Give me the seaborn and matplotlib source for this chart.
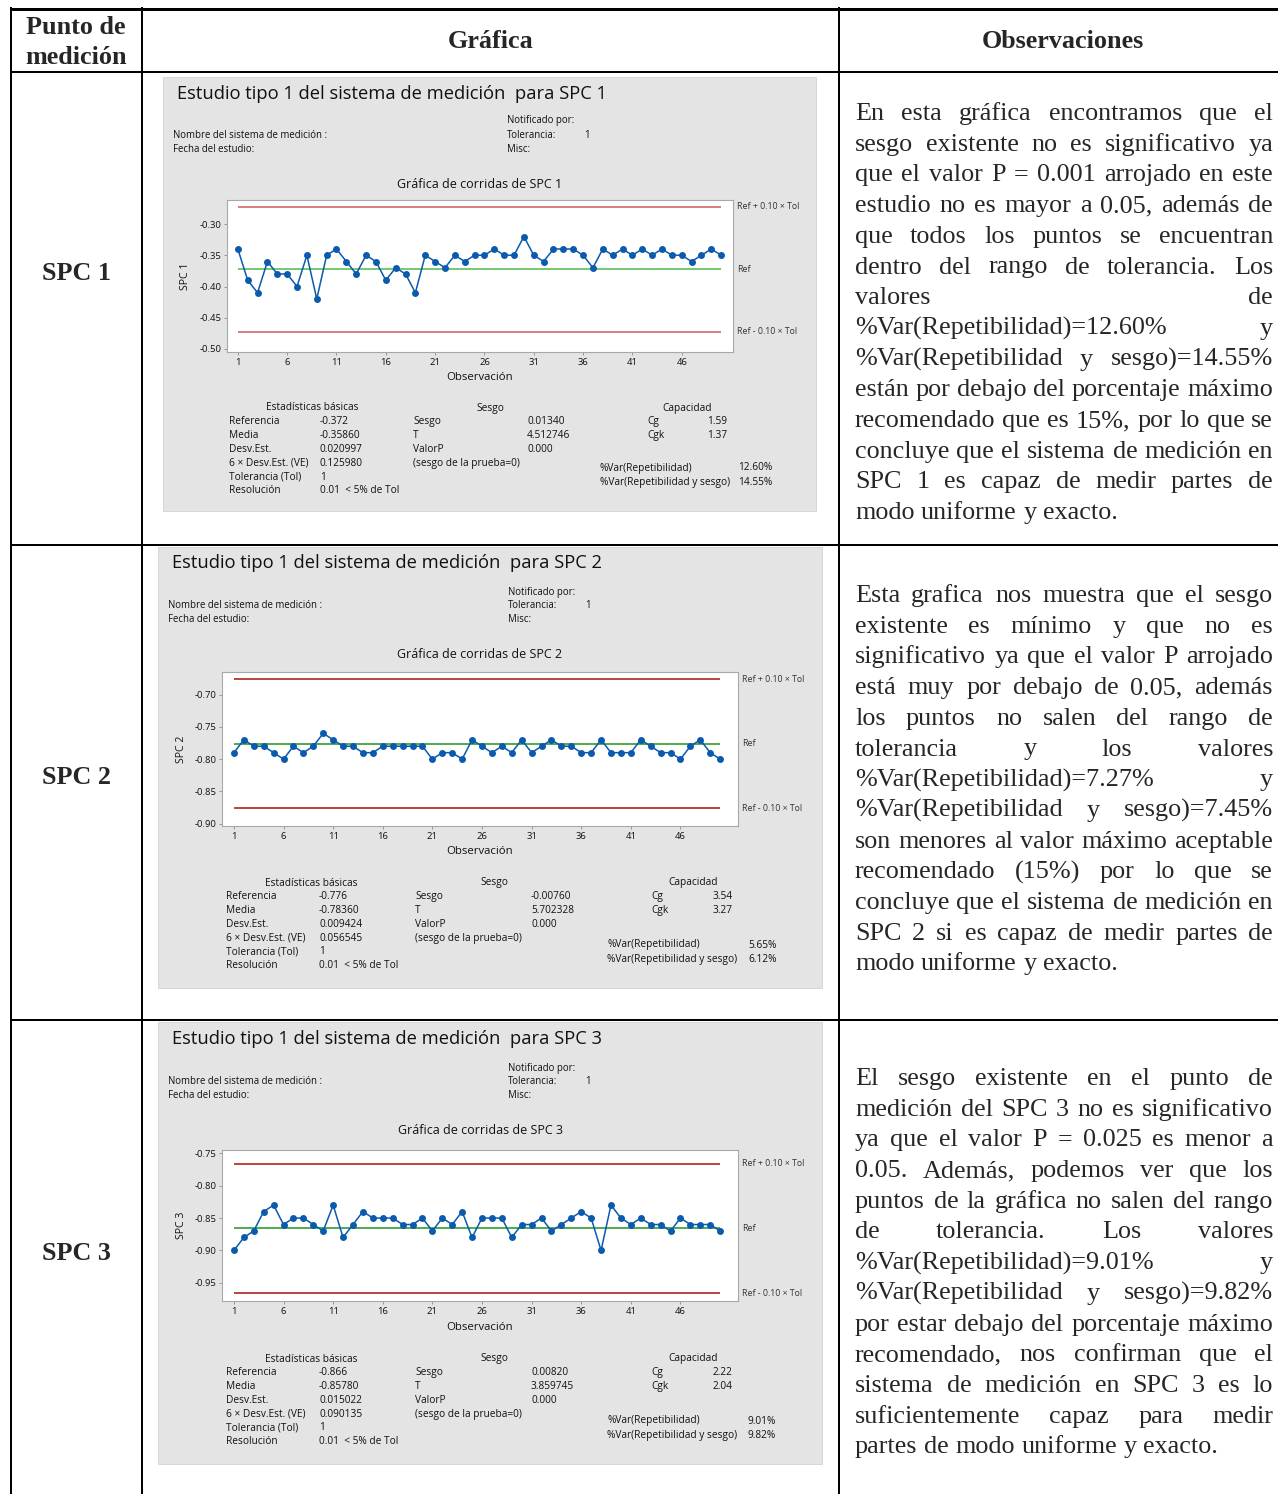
import matplotlib
matplotlib.use("Agg")
import numpy as np
import pandas as pd
import matplotlib.pyplot as plt
from matplotlib.patches import Rectangle
import seaborn as sns

W, H = 1278, 1494
PX = 100 / 72.0  # pixels per point at dpi 100

# ---- values ----
obs = list(range(1, 51))
spc1 = [-0.34, -0.39, -0.41, -0.36, -0.38, -0.38, -0.40, -0.35, -0.42, -0.35,
        -0.34, -0.36, -0.38, -0.35, -0.36, -0.39, -0.37, -0.38, -0.41, -0.35,
        -0.36, -0.37, -0.35, -0.36, -0.35, -0.35, -0.34, -0.35, -0.35, -0.32,
        -0.35, -0.36, -0.34, -0.34, -0.34, -0.35, -0.37, -0.34, -0.35, -0.34,
        -0.35, -0.34, -0.35, -0.34, -0.35, -0.35, -0.36, -0.35, -0.34, -0.35]
spc2 = [-0.79, -0.77, -0.78, -0.78, -0.79, -0.80, -0.78, -0.79, -0.78, -0.76,
        -0.77, -0.78, -0.78, -0.79, -0.79, -0.78, -0.78, -0.78, -0.78, -0.78,
        -0.80, -0.79, -0.79, -0.80, -0.77, -0.78, -0.79, -0.78, -0.79, -0.77,
        -0.79, -0.78, -0.77, -0.78, -0.78, -0.79, -0.79, -0.77, -0.79, -0.79,
        -0.79, -0.77, -0.78, -0.79, -0.79, -0.80, -0.78, -0.77, -0.79, -0.80]
spc3 = [-0.90, -0.88, -0.87, -0.84, -0.83, -0.86, -0.85, -0.85, -0.86, -0.87,
        -0.83, -0.88, -0.86, -0.84, -0.85, -0.85, -0.85, -0.86, -0.86, -0.85,
        -0.87, -0.85, -0.86, -0.84, -0.88, -0.85, -0.85, -0.85, -0.88, -0.86,
        -0.86, -0.85, -0.87, -0.86, -0.85, -0.84, -0.85, -0.90, -0.83, -0.85,
        -0.86, -0.85, -0.86, -0.86, -0.87, -0.85, -0.86, -0.86, -0.86, -0.87]
series = [spc1, spc2, spc3]
refs = [-0.372, -0.776, -0.866]
names = ["SPC 1", "SPC 2", "SPC 3"]
yticks = [[-0.50, -0.45, -0.40, -0.35, -0.30],
          [-0.90, -0.85, -0.80, -0.75, -0.70],
          [-0.95, -0.90, -0.85, -0.80, -0.75]]
xticks = [1, 6, 11, 16, 21, 26, 31, 36, 41, 46]

basic_labels = ["Referencia", "Media", "Desv.Est.", "6 × Desv.Est. (VE)",
                "Tolerancia (Tol)", "Resolución"]
basic_values = [["-0.372", "-0.35860", "0.020997", "0.125980", "1", "0.01  < 5% de Tol"],
                ["-0.776", "-0.78360", "0.009424", "0.056545", "1", "0.01  < 5% de Tol"],
                ["-0.866", "-0.85780", "0.015022", "0.090135", "1", "0.01  < 5% de Tol"]]
bias_labels = ["Sesgo", "T", "ValorP", "(sesgo de la prueba=0)"]
bias_values = [["0.01340", "4.512746", "0.000"],
               ["-0.00760", "5.702328", "0.000"],
               ["0.00820", "3.859745", "0.000"]]
cap_labels = ["Cg", "Cgk"]
cap_values = [["1.59", "1.37"], ["3.54", "3.27"], ["2.22", "2.04"]]
var_labels = ["%Var(Repetibilidad)", "%Var(Repetibilidad y sesgo)"]
var_values = [["12.60%", "14.55%"], ["5.65%", "6.12%"], ["9.01%", "9.82%"]]

obs_text = [
    ["En esta gráfica encontramos que el",
     "sesgo existente no es significativo ya",
     "que el valor P = 0.001 arrojado en este",
     "estudio no es mayor a 0.05, además de",
     "que todos los puntos se encuentran",
     "dentro del rango de tolerancia. Los",
     "valores de",
     "%Var(Repetibilidad)=12.60% y",
     "%Var(Repetibilidad y sesgo)=14.55%",
     "están por debajo del porcentaje máximo",
     "recomendado que es 15%, por lo que se",
     "concluye que el sistema de medición en",
     "SPC 1 es capaz de medir partes de",
     "modo uniforme y exacto."],
    ["Esta grafica nos muestra que el sesgo",
     "existente es mínimo y que no es",
     "significativo ya que el valor P arrojado",
     "está muy por debajo de 0.05, además",
     "los puntos no salen del rango de",
     "tolerancia y los valores",
     "%Var(Repetibilidad)=7.27% y",
     "%Var(Repetibilidad y sesgo)=7.45%",
     "son menores al valor máximo aceptable",
     "recomendado (15%) por lo que se",
     "concluye que el sistema de medición en",
     "SPC 2  si es capaz de medir partes de",
     "modo uniforme y exacto."],
    ["El sesgo existente en el punto de",
     "medición del SPC 3 no es significativo",
     "ya que el valor P = 0.025 es menor a",
     "0.05. Además, podemos ver que los",
     "puntos de la gráfica no salen del rango",
     "de tolerancia. Los valores",
     "%Var(Repetibilidad)=9.01% y",
     "%Var(Repetibilidad y sesgo)=9.82%",
     "por estar debajo del porcentaje máximo",
     "recomendado, nos confirman que el",
     "sistema de medición en SPC 3 es lo",
     "suficientemente capaz para medir",
     "partes de modo uniforme y exacto."],
]

# ---- layout (pixels) ----
layouts = [
    dict(box=(163, 77, 816, 511), axes=(227, 200, 733, 352), xlim=(-0.1, 51.2),
         ylim=(-0.5048, -0.2616), title=(177, 94), info_l=173, info_r=507, info_y=121,
         sub_y=184, xl_y=377, yl_x=186, stat_y=408,
         cols=(229, 320, 413, 527, 647, 707, 600, 738), heads=(312, 490, 687), var_y=468,
         red="#cf6a6a", green="#5cbf5c", obs_y=120, row_y=274),
    dict(box=(158, 547, 822, 988), axes=(222, 672, 738, 826), xlim=(-0.2, 51.8),
         ylim=(-0.9036, -0.665), title=(172, 563), info_l=168, info_r=508, info_y=592,
         sub_y=655, xl_y=852, yl_x=182, stat_y=883,
         cols=(226, 319, 415, 531, 651, 713, 607, 748), heads=(311, 494, 693), var_y=945,
         red="#b02222", green="#2e9e2e", obs_y=602, row_y=777),
    dict(box=(158, 1022, 822, 1464), axes=(222, 1150, 738, 1301), xlim=(-0.2, 51.8),
         ylim=(-0.978, -0.745), title=(172, 1039), info_l=168, info_r=508, info_y=1068,
         sub_y=1131, xl_y=1328, yl_x=182, stat_y=1359,
         cols=(226, 319, 415, 531, 651, 713, 607, 748), heads=(311, 494, 693), var_y=1421,
         red="#b02222", green="#2e9e2e", obs_y=1085, row_y=1253),
]

sns.set_theme(style="white")
SANS = ["Open Sans", "DejaVu Sans"]
SERIF = ["Liberation Serif", "DejaVu Serif"]
plt.rcParams["font.family"] = SANS

BLUE = "#0b5aad"
PANEL = "#e4e4e4"
MTXT = "#111111"

fig = plt.figure(figsize=(W / 100, H / 100), dpi=100)
fig.patch.set_facecolor("white")
ax0 = fig.add_axes([0, 0, 1, 1])
ax0.set_xlim(0, W)
ax0.set_ylim(H, 0)
ax0.axis("off")

# table grid
lw_thick = 3 * 72 / 100
lw_norm = 2 * 72 / 100
ax0.plot([10, W], [8.5, 8.5], color="black", lw=lw_thick, solid_capstyle="butt")
for yy in [72, 545, 1020]:
    ax0.plot([10, W], [yy, yy], color="black", lw=lw_norm, solid_capstyle="butt")
for xx in [10.5, 142, 839]:
    ax0.plot([xx, xx], [7, H], color="black", lw=lw_norm, solid_capstyle="butt")

SER_SIZE = 18.8
ax0.text(76, 28, "Punto de", ha="center", va="center", family=SERIF,
         fontsize=SER_SIZE, fontweight="bold")
ax0.text(76, 58, "medición", ha="center", va="center", family=SERIF,
         fontsize=SER_SIZE, fontweight="bold")
ax0.text(491, 42, "Gráfica", ha="center", va="center", family=SERIF,
         fontsize=SER_SIZE, fontweight="bold")
ax0.text(1063, 42, "Observaciones", ha="center", va="center", family=SERIF,
         fontsize=SER_SIZE, fontweight="bold")

renderer = fig.canvas.get_renderer()


def justified(lines, x0, x1, y0, step, size):
    for i, line in enumerate(lines):
        words = line.split()
        y = y0 + i * step
        ts = [ax0.text(0, y, w, family=SERIF, fontsize=size, va="baseline", ha="left")
              for w in words]
        ws = [t.get_window_extent(renderer=renderer).width for t in ts]
        if i == len(lines) - 1 or len(words) == 1:
            gap = size * PX * 0.25
        else:
            gap = (x1 - x0 - sum(ws)) / (len(words) - 1)
        x = x0
        for t, w in zip(ts, ws):
            t.set_x(x)
            x += w + gap


for k, L in enumerate(layouts):
    bx0, by0, bx1, by1 = L["box"]
    ax0.add_patch(Rectangle((bx0, by0), bx1 - bx0, by1 - by0, facecolor=PANEL,
                            edgecolor="#d4d4d4", lw=0.6, zorder=1))
    # row label
    ax0.text(76, L["row_y"], names[k], ha="center", va="center", family=SERIF,
             fontsize=SER_SIZE, fontweight="bold")

    # minitab header
    tx, ty = L["title"]
    ax0.text(tx, ty, f"Estudio tipo 1 del sistema de medición  para {names[k]}",
             ha="left", va="center", fontsize=13.2, color=MTXT, zorder=3)
    iy = L["info_y"]
    small = 6.9
    ax0.text(L["info_r"], iy, "Notificado por:", fontsize=small, va="center", color=MTXT, zorder=3)
    ax0.text(L["info_r"], iy + 14, "Tolerancia:", fontsize=small, va="center", color=MTXT, zorder=3)
    ax0.text(L["info_r"] + 77, iy + 14, "1", fontsize=small, va="center", color=MTXT, zorder=3)
    ax0.text(L["info_r"], iy + 28, "Misc:", fontsize=small, va="center", color=MTXT, zorder=3)
    ax0.text(L["info_l"], iy + 14, "Nombre del sistema de medición :", fontsize=small,
             va="center", color=MTXT, zorder=3)
    ax0.text(L["info_l"], iy + 28, "Fecha del estudio:", fontsize=small, va="center",
             color=MTXT, zorder=3)
    ax0.text(480, L["sub_y"], f"Gráfica de corridas de {names[k]}", fontsize=9.0,
             ha="center", va="center", color=MTXT, zorder=3)
    ax0.text(480, L["xl_y"], "Observación", fontsize=8.2, ha="center", va="center",
             color=MTXT, zorder=3)
    a_x0, a_y0, a_x1, a_y1 = L["axes"]
    ax0.text(L["yl_x"], (a_y0 + a_y1) / 2, names[k], fontsize=7.6, rotation=90,
             ha="center", va="center", color=MTXT, zorder=3)

    # run chart
    ax = fig.add_axes([a_x0 / W, 1 - a_y1 / H, (a_x1 - a_x0) / W, (a_y1 - a_y0) / H])
    ax.set_facecolor("white")
    ref = refs[k]
    ax.hlines([ref + 0.1, ref - 0.1], 1, 50, color=L["red"], lw=1.2)
    ax.hlines([ref], 1, 50, color=L["green"], lw=1.2)
    df = pd.DataFrame({"obs": obs, "val": series[k]})
    sns.lineplot(data=df, x="obs", y="val", ax=ax, color=BLUE, lw=1.1,
                 marker="o", markersize=5.0, markeredgewidth=0)
    ax.set_xlim(*L["xlim"])
    ax.set_ylim(*L["ylim"])
    ax.set_xticks(xticks)
    ax.set_yticks(yticks[k])
    ax.set_yticklabels([f"{v:.2f}" for v in yticks[k]])
    ax.set_xlabel("")
    ax.set_ylabel("")
    ax.tick_params(bottom=True, left=True, length=2.5, width=0.6, color="#8a8a8a",
                   labelsize=6.8, labelcolor=MTXT, pad=1.5)
    for sp in ax.spines.values():
        sp.set_color("#a8a8a8")
        sp.set_linewidth(0.8)
    tr = ax.get_yaxis_transform()
    ax.text(1.008, ref + 0.1, "Ref + 0.10 × Tol", transform=tr, fontsize=6.3,
            va="center", color="#333333")
    ax.text(1.008, ref, "Ref", transform=tr, fontsize=6.3, va="center", color="#333333")
    ax.text(1.008, ref - 0.1, "Ref - 0.10 × Tol", transform=tr, fontsize=6.3,
            va="center", color="#333333")

    # statistics block
    c = L["cols"]
    h1, h2, h3 = L["heads"]
    sy = L["stat_y"]
    st = 7.3
    step = 13.8
    ax0.text(h1, sy, "Estadísticas básicas", fontsize=st, ha="center", va="center", color=MTXT, zorder=3)
    ax0.text(h2, sy, "Sesgo", fontsize=st, ha="center", va="center", color=MTXT, zorder=3)
    ax0.text(h3, sy, "Capacidad", fontsize=st, ha="center", va="center", color=MTXT, zorder=3)
    for i, (lab, val) in enumerate(zip(basic_labels, basic_values[k])):
        yy = sy + step * (i + 1)
        ax0.text(c[0], yy, lab, fontsize=st, va="center", color=MTXT, zorder=3)
        ax0.text(c[1], yy, val, fontsize=st, va="center", color=MTXT, zorder=3)
    for i, lab in enumerate(bias_labels):
        yy = sy + step * (i + 1)
        ax0.text(c[2], yy, lab, fontsize=st, va="center", color=MTXT, zorder=3)
        if i < len(bias_values[k]):
            ax0.text(c[3], yy, bias_values[k][i], fontsize=st, va="center", color=MTXT, zorder=3)
    for i, (lab, val) in enumerate(zip(cap_labels, cap_values[k])):
        yy = sy + step * (i + 1)
        ax0.text(c[4], yy, lab, fontsize=st, va="center", color=MTXT, zorder=3)
        ax0.text(c[5], yy, val, fontsize=st, va="center", color=MTXT, zorder=3)
    for i, (lab, val) in enumerate(zip(var_labels, var_values[k])):
        yy = L["var_y"] + 14.5 * i
        ax0.text(c[6], yy, lab, fontsize=st, va="center", color=MTXT, zorder=3)
        ax0.text(c[7], yy, val, fontsize=st, va="center", color=MTXT, zorder=3)

    # observations text
    justified(obs_text[k], 855, 1273, L["obs_y"], 30.7, SER_SIZE)

fig.savefig("out.png", dpi=100, facecolor="white")
